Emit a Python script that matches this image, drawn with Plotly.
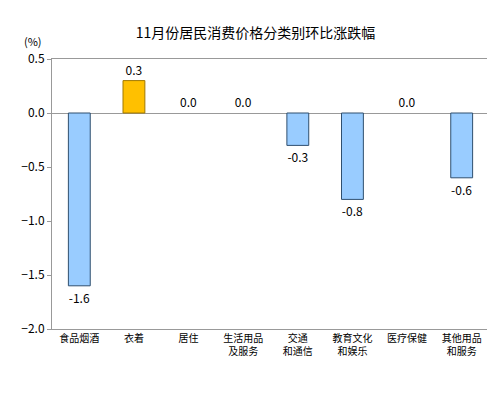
import plotly.graph_objects as go

categories = ["食品烟酒", "衣着", "居住", "生活用品<br>及服务", "交通<br>和通信", "教育文化<br>和娱乐", "医疗保健", "其他用品<br>和服务"]
values = [-1.6, 0.3, 0.0, 0.0, -0.3, -0.8, 0.0, -0.6]
labels = ["-1.6", "0.3", "0.0", "0.0", "-0.3", "-0.8", "0.0", "-0.6"]
title = "11月份居民消费价格分类别环比涨跌幅"

colors = ["#FFC000" if v > 0 else "#99CCFF" for v in values]
lines = ["#A07800" if v > 0 else "#2F4F6F" for v in values]
lw = [0 if v == 0 else 1 for v in values]

fig = go.Figure(go.Bar(
    x=categories, y=values, width=0.4,
    marker=dict(color=colors, line=dict(color=lines, width=lw)),
    text=labels, textposition="outside", cliponaxis=False,
    textfont=dict(size=12, color="black"),
))
fig.update_layout(
    width=495, height=401, margin=dict(l=44, r=14, t=51, b=80),
    paper_bgcolor="white", plot_bgcolor="white", showlegend=False,
    font=dict(family="Noto Sans CJK SC, Arial", size=10, color="black"),
    title=dict(text=title, x=0.5, xanchor="center", y=0.95, font=dict(size=14)),
    annotations=[dict(text="(%)", x=0, y=1.0, xref="paper", yref="paper", xanchor="right", yanchor="bottom", xshift=-8, yshift=8, showarrow=False, font=dict(size=11))],
)
fig.update_xaxes(showline=True, linecolor="#999", mirror=True, ticks="", tickfont=dict(size=10))
fig.update_yaxes(range=[-2.0, 0.5], dtick=0.5, tickformat=".1f", showgrid=False, showline=True, linecolor="#999", mirror=True,
                 ticks="outside", ticklen=4, tickcolor="#999", zeroline=True, zerolinecolor="#999", zerolinewidth=1, tickfont=dict(size=12))
fig.write_html("out.html")
